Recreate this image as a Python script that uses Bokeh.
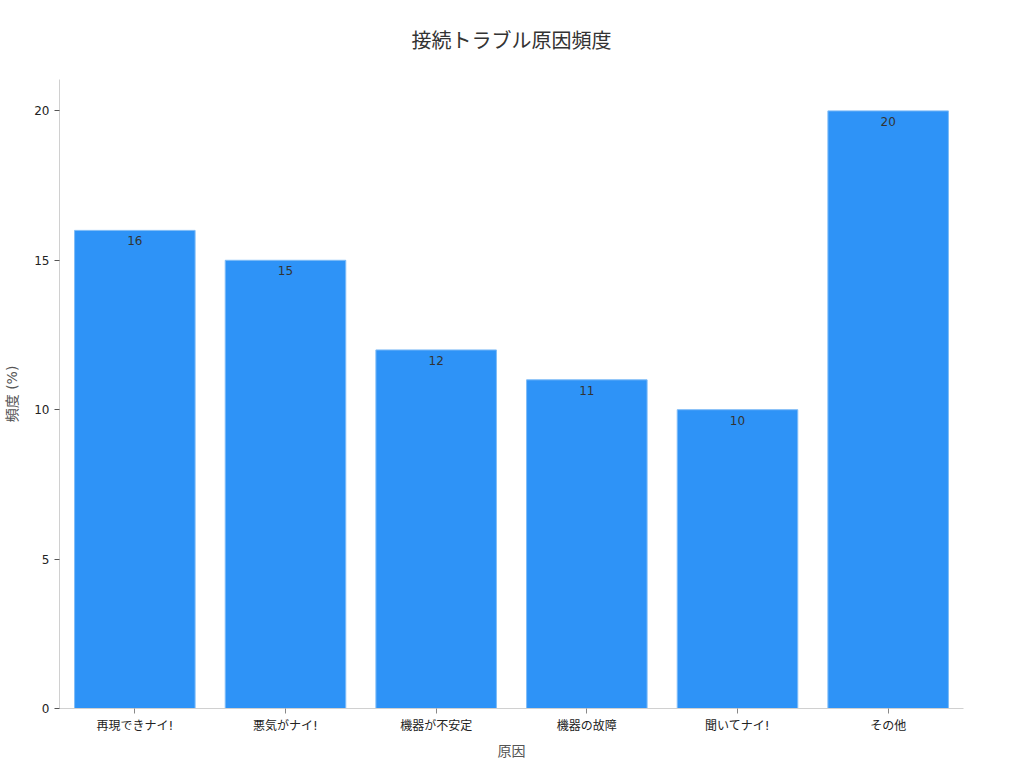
from bokeh.plotting import figure
from bokeh.models import ColumnDataSource, Range1d, FixedTicker
from bokeh.core.properties import value
from bokeh.embed import file_html
from bokeh.resources import INLINE

categories = ["再現できナイ!", "悪気がナイ!", "機器が不安定", "機器の故障", "聞いてナイ!", "その他"]
values = [16, 15, 12, 11, 10, 20]
y_ticks = [0, 5, 10, 15, 20]

FONT = "DejaVu Sans, Noto Sans CJK JP, sans-serif"

src = ColumnDataSource(dict(cat=categories, val=values, lbl=[str(v) for v in values]))

p = figure(x_range=categories, y_range=Range1d(0, 21.05), width=1000, height=761,
           output_backend="svg", toolbar_location=None,
           title="接続トラブル原因頻度", x_axis_label="原因", y_axis_label="頻度 (%)",
           min_border_left=59, min_border_right=37, min_border_top=79, min_border_bottom=50)

p.vbar(x="cat", top="val", width=0.8, source=src, fill_color="#2E93F7",
       line_color="#7FBCF7", line_width=1)
p.text(x="cat", y="val", text="lbl", source=src, text_align="center",
       text_baseline="top", y_offset=6, text_font_size="12px",
       text_color="#333333", text_font=value(FONT))

p.title.align = "center"
p.title.vertical_align = "top"
p.title.text_font = FONT
p.title.text_font_size = "20px"
p.title.text_font_style = "normal"
p.title.text_color = "#333333"
p.title.offset = 0
p.title.standoff = 50

p.xgrid.visible = False
p.ygrid.visible = False
p.outline_line_color = None

p.yaxis.ticker = FixedTicker(ticks=y_ticks)
for ax in (p.xaxis, p.yaxis):
    ax.axis_line_color = "#d0d0d0"
    ax.major_tick_line_color = "#555555"
    ax.minor_tick_line_color = None
    ax.major_tick_in = 0
    ax.major_tick_out = 5
    ax.major_label_text_font = FONT
    ax.major_label_text_font_size = "12px"
    ax.major_label_text_color = "#222222"
    ax.axis_label_text_font = FONT
    ax.axis_label_text_font_size = "14px"
    ax.axis_label_text_font_style = "normal"
    ax.axis_label_text_color = "#555555"
p.xaxis.major_tick_line_color = "#888888"
p.yaxis.axis_label_standoff = 11
p.xaxis.axis_label_standoff = 7

open("out.html", "w").write(file_html(p, INLINE))
